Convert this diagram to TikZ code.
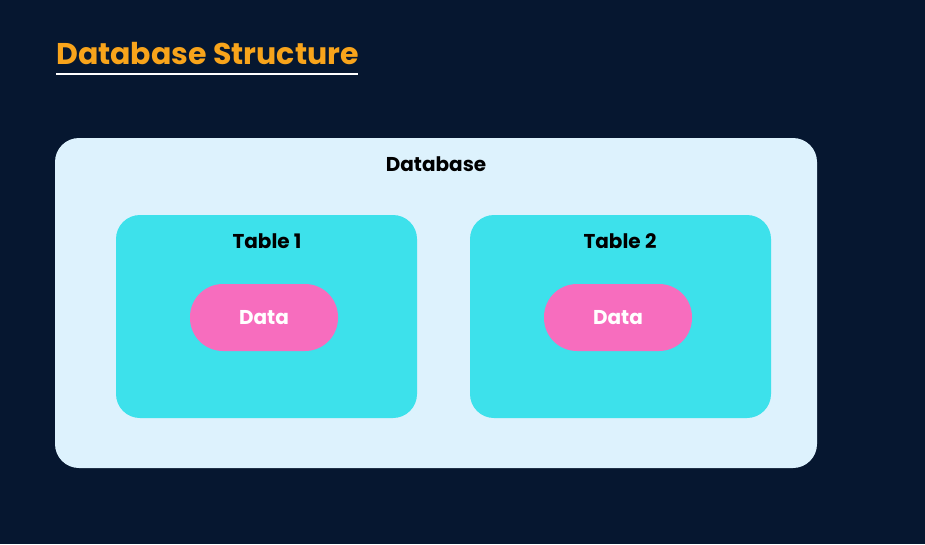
\documentclass[tikz,border=0pt]{standalone}
\usepackage{fontspec}
\setmainfont{Poppins}
\definecolor{bgc}{HTML}{061730}
\definecolor{dbc}{HTML}{DDF2FD}
\definecolor{tbc}{HTML}{3DE1EB}
\definecolor{dtc}{HTML}{F76DBE}
\definecolor{ttc}{HTML}{F8A41B}
\tikzset{
  px/.style={x=1pt,y=-1pt},
  dbbox/.style={fill=dbc, rounded corners=24pt, draw=none},
  tbbox/.style={fill=tbc, rounded corners=24pt, draw=none},
  datapill/.style={fill=dtc, draw=none, rounded corners=33pt, minimum width=148pt, minimum height=67pt, inner sep=0pt, text=white, font=\fontsize{20}{23}\selectfont\bfseries},
  lbl/.style={text=black, font=\fontsize{20}{23}\selectfont\bfseries, inner sep=0pt, anchor=base}
}
\begin{document}
\begin{tikzpicture}[px]
\fill[bgc] (0,0) rectangle (925,544);
\useasboundingbox (0,0) rectangle (925,544);
\node[anchor=base west, inner sep=0pt, text=ttc, font=\fontsize{30}{34}\selectfont\bfseries] (title) at (56,64) {Database Structure};
\coordinate (ul1) at (56,74);
\coordinate (ul2) at (358,74);
\draw[white, line width=2.5pt] (ul1) -- (ul2);
\path[dbbox] (55,138) rectangle (817,468);
\node[lbl] (dblabel) at (436,171.5) {Database};
\path[tbbox] (116,215) rectangle (417,418);
\node[lbl] (t1label) at (267,248.5) {Table 1};
\path[tbbox] (470,215) rectangle (771,418);
\node[lbl] (t2label) at (620,248.5) {Table 2};
\node[datapill] (d1) at (264,317.5) {Data};
\node[datapill] (d2) at (618,317.5) {Data};
\end{tikzpicture}
\end{document}
